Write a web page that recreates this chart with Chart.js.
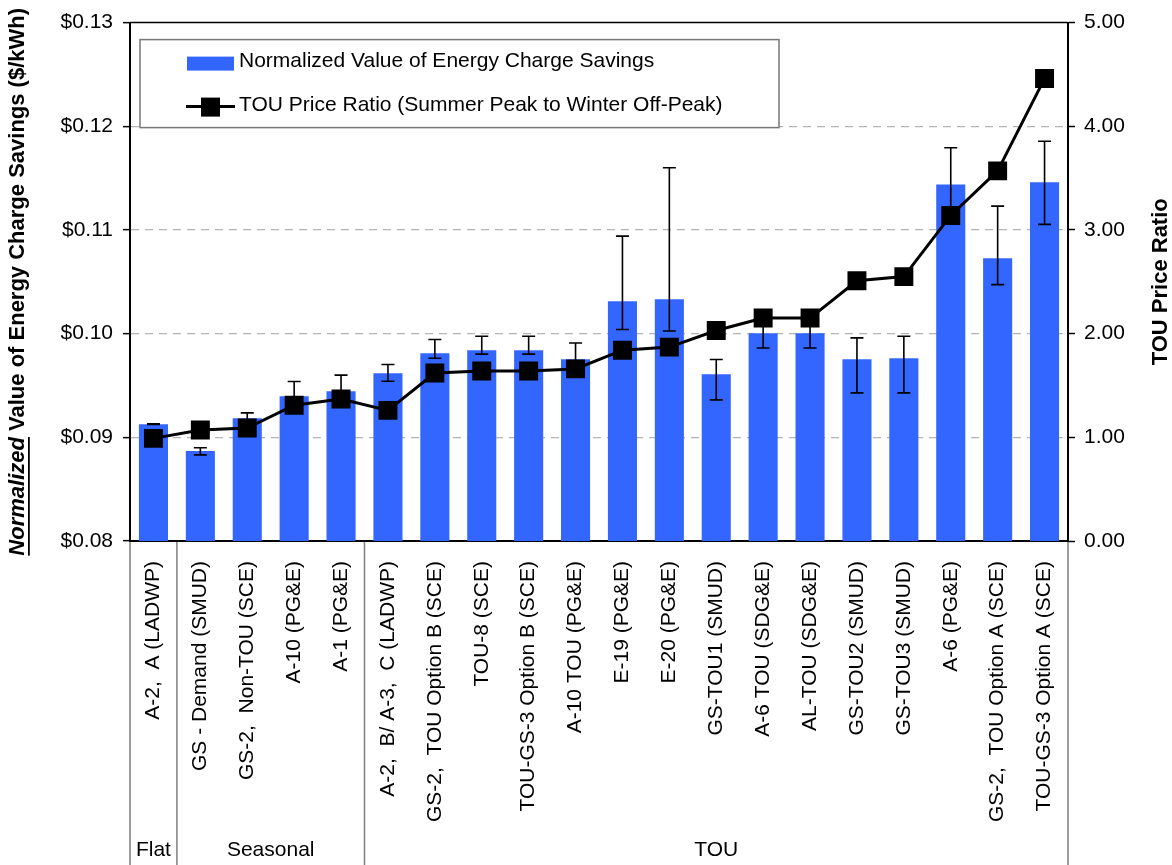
<!DOCTYPE html>
<html>
<head>
<meta charset="utf-8">
<script src="https://cdn.jsdelivr.net/npm/chart.js@4.4.0/dist/chart.umd.min.js"></script>
<style>
  html, body { margin: 0; padding: 0; background: #fff; }
  canvas { display: block; }
</style>
</head>
<body>
<canvas id="savingsChart" width="1172" height="865"></canvas>
<script>
// Rate schedules, in plot order
const rateNames = [
    'A-2,  A (LADWP)', 'GS - Demand (SMUD)', 'GS-2,  Non-TOU (SCE)', 'A-10 (PG&E)', 'A-1 (PG&E)',
    'A-2,  B/ A-3,  C (LADWP)', 'GS-2,  TOU Option B (SCE)', 'TOU-8 (SCE)', 'TOU-GS-3 Option B (SCE)',
    'A-10 TOU (PG&E)', 'E-19 (PG&E)', 'E-20 (PG&E)', 'GS-TOU1 (SMUD)', 'A-6 TOU (SDG&E)',
    'AL-TOU (SDG&E)', 'GS-TOU2 (SMUD)', 'GS-TOU3 (SMUD)', 'A-6 (PG&E)',
    'GS-2,  TOU Option A (SCE)', 'TOU-GS-3 Option A (SCE)'
];
const groupNames = ['Flat', 'Seasonal', 'TOU'];
const groupSizes = [1, 4, 15];

// Normalized value of energy charge savings ($/kWh) with error bar ends
const savings =     [0.09127, 0.08867, 0.09185, 0.09397, 0.09445, 0.09618, 0.09811, 0.09840, 0.09840, 0.09753,
                     0.10312, 0.10331, 0.09609, 0.10004, 0.10004, 0.09753, 0.09763, 0.11439, 0.10726, 0.11459];
const savingsHigh = [0.09131, 0.08899, 0.09236, 0.09539, 0.09600, 0.09702, 0.09943, 0.09975, 0.09975, 0.09910,
                     0.10941, 0.11600, 0.09750, 0.10146, 0.10146, 0.09959, 0.09975, 0.11793, 0.11230, 0.11856];
const savingsLow =  [0.09123, 0.08831, 0.09134, 0.09255, 0.09290, 0.09541, 0.09763, 0.09802, 0.09802, 0.09596,
                     0.10040, 0.10026, 0.09361, 0.09862, 0.09862, 0.09429, 0.09429, 0.11085, 0.10473, 0.11054];

// TOU price ratio (summer peak to winter off-peak)
const priceRatio = [0.99, 1.07, 1.09, 1.31, 1.37, 1.26, 1.62, 1.64, 1.64, 1.66,
                    1.84, 1.87, 2.03, 2.15, 2.15, 2.51, 2.55, 3.14, 3.57, 4.46];

const leftTicks = [0.08, 0.09, 0.10, 0.11, 0.12, 0.13];
const rightTicks = [0, 1, 2, 3, 4, 5];

const FONT = "'Liberation Sans', Arial, sans-serif";
const BLUE = '#3366ff';

// error bars drawn right after the bars, so the line sits on top
const errorBars = {
    id: 'errorBars',
    afterDatasetDraw(chart, args) {
        if (args.index !== 0) return;
        const ctx = chart.ctx;
        const y = chart.scales.y;
        ctx.save();
        ctx.strokeStyle = '#000';
        ctx.lineWidth = 1.6;
        args.meta.data.forEach((bar, i) => {
            const top = y.getPixelForValue(savingsHigh[i]);
            const bot = y.getPixelForValue(savingsLow[i]);
            ctx.beginPath();
            ctx.moveTo(bar.x, top); ctx.lineTo(bar.x, bot);
            ctx.moveTo(bar.x - 6.5, top); ctx.lineTo(bar.x + 6.5, top);
            ctx.moveTo(bar.x - 6.5, bot); ctx.lineTo(bar.x + 6.5, bot);
            ctx.stroke();
        });
        ctx.restore();
    }
};

const decorations = {
    id: 'decorations',
    afterDraw(chart) {
        const ctx = chart.ctx;
        const area = chart.chartArea;
        const x = chart.scales.x;
        const half = (x.getPixelForValue(1) - x.getPixelForValue(0)) / 2;
        ctx.save();

        // top frame line
        ctx.strokeStyle = '#000';
        ctx.lineWidth = 1.5;
        ctx.beginPath();
        ctx.moveTo(area.left, area.top); ctx.lineTo(area.right, area.top);
        ctx.stroke();

        // category group separators and names
        ctx.strokeStyle = '#7f7f7f';
        ctx.lineWidth = 1.5;
        ctx.fillStyle = '#000';
        ctx.font = '21px ' + FONT;
        ctx.textAlign = 'center';
        ctx.textBaseline = 'middle';
        let start = 0;
        const edge = idx => x.getPixelForValue(idx) - half;
        ctx.beginPath();
        ctx.moveTo(edge(0), area.bottom + 1); ctx.lineTo(edge(0), chart.height);
        groupSizes.forEach((n, g) => {
            const end = start + n;
            ctx.moveTo(edge(end), area.bottom + 1); ctx.lineTo(edge(end), chart.height);
            ctx.fillText(groupNames[g], (edge(start) + edge(end)) / 2, 850);
            start = end;
        });
        ctx.stroke();

        // left axis title: "Normalized" italic + underlined
        const midY = (area.top + area.bottom) / 2;
        const part1 = 'Normalized';
        const part2 = ' Value of Energy Charge Savings ($/kWh)';
        ctx.save();
        ctx.translate(18, midY);
        ctx.rotate(-Math.PI / 2);
        ctx.textAlign = 'left';
        ctx.font = 'italic bold 22px ' + FONT;
        const w1 = ctx.measureText(part1).width;
        ctx.font = 'bold 22px ' + FONT;
        const w2 = ctx.measureText(part2).width;
        const x0 = -(w1 + w2) / 2;
        ctx.font = 'italic bold 22px ' + FONT;
        ctx.fillText(part1, x0, 0);
        ctx.fillRect(x0, 10, w1, 1.8);
        ctx.font = 'bold 22px ' + FONT;
        ctx.fillText(part2, x0 + w1, 0);
        ctx.restore();

        // right axis title
        ctx.save();
        ctx.translate(1161, midY);
        ctx.rotate(-Math.PI / 2);
        ctx.font = 'bold 22px ' + FONT;
        ctx.textAlign = 'center';
        ctx.fillText('TOU Price Ratio', 0, 0);
        ctx.restore();

        // legend box
        const lx = area.left + 10, ly = area.top + 17;
        ctx.fillStyle = '#fff';
        ctx.fillRect(lx, ly, 639, 88);
        ctx.strokeStyle = '#777';
        ctx.lineWidth = 1.5;
        ctx.strokeRect(lx, ly, 639, 88);
        ctx.fillStyle = BLUE;
        ctx.fillRect(lx + 47, ly + 17, 47, 14);
        ctx.strokeStyle = '#000';
        ctx.lineWidth = 3;
        ctx.beginPath();
        ctx.moveTo(lx + 46, ly + 67); ctx.lineTo(lx + 95, ly + 67);
        ctx.stroke();
        ctx.fillStyle = '#000';
        ctx.fillRect(lx + 61, ly + 58, 19, 19);
        ctx.font = '21px ' + FONT;
        ctx.textAlign = 'left';
        ctx.textBaseline = 'middle';
        ctx.fillText(chart.data.datasets[0].label, lx + 99, ly + 22);
        ctx.fillText(chart.data.datasets[1].label, lx + 99, ly + 66);

        ctx.restore();
    }
};

const ctx = document.getElementById('savingsChart').getContext('2d');
new Chart(ctx, {
    data: {
        labels: rateNames,
        datasets: [{
            type: 'bar',
            label: 'Normalized Value of Energy Charge Savings',
            data: savings,
            backgroundColor: BLUE,
            barPercentage: 0.62,
            categoryPercentage: 1,
            yAxisID: 'y',
            order: 1
        }, {
            type: 'line',
            label: 'TOU Price Ratio (Summer Peak to Winter Off-Peak)',
            data: priceRatio,
            borderColor: '#000',
            borderWidth: 3,
            pointStyle: 'rect',
            pointRadius: 13.4,
            pointBackgroundColor: '#000',
            pointBorderWidth: 0,
            tension: 0,
            yAxisID: 'y1',
            order: 0
        }]
    },
    options: {
        responsive: false,
        animation: false,
        devicePixelRatio: 1,
        layout: { padding: { top: 22, left: 0, right: 0, bottom: 0 } },
        scales: {
            x: {
                offset: true,
                grid: { display: false },
                border: { color: '#000', width: 2 },
                ticks: {
                    autoSkip: false,
                    minRotation: 90,
                    maxRotation: 90,
                    padding: 12,
                    color: '#000',
                    font: { family: FONT, size: 21 }
                },
                afterFit(scale) { scale.height = 324; }
            },
            y: {
                position: 'left',
                min: 0.08,
                max: 0.13,
                afterBuildTicks(scale) { scale.ticks = leftTicks.map(v => ({ value: v })); },
                afterFit(scale) { scale.width = 130; },
                grid: {
                    color: c => (c.index === 0 || c.index === leftTicks.length - 1) ? 'rgba(0,0,0,0)' : '#b4b4b4',
                    lineWidth: 1.3,
                    tickColor: '#000',
                    tickWidth: 1.5,
                    tickLength: 7
                },
                border: { color: '#000', width: 2, dash: [8, 6] },
                ticks: {
                    padding: 10,
                    color: '#000',
                    font: { family: FONT, size: 21 },
                    callback: v => '$' + v.toFixed(2)
                }
            },
            y1: {
                position: 'right',
                min: 0,
                max: 5,
                afterBuildTicks(scale) { scale.ticks = rightTicks.map(v => ({ value: v })); },
                afterFit(scale) { scale.width = 104; },
                grid: {
                    drawOnChartArea: false,
                    tickColor: '#000',
                    tickWidth: 1.5,
                    tickLength: 7
                },
                border: { color: '#000', width: 2 },
                ticks: {
                    padding: 9,
                    color: '#000',
                    font: { family: FONT, size: 21 },
                    callback: v => v.toFixed(2)
                }
            }
        },
        plugins: {
            legend: { display: false },
            tooltip: { enabled: false }
        }
    },
    plugins: [errorBars, decorations]
});
</script>
</body>
</html>
